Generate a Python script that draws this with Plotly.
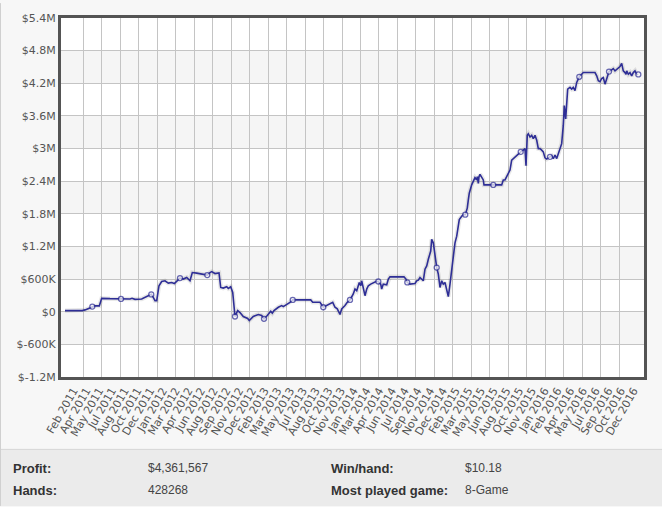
import plotly.graph_objects as go

# ---------------- data ----------------
# x: months elapsed since 1 Jan 2011, y: cumulative profit in $ millions
months = [0.375, 2.54, 2.875, 3.5, 3.79, 4.125, 4.66, 4.96, 6.0, 7.375, 8.125, 8.5, 8.75, 9.125, 9.96,
          10.375, 10.79, 11.16, 11.41, 11.625, 11.84, 12.125, 12.46, 12.875, 13.29, 13.71, 14.04, 14.34,
          14.75, 15.16, 15.59, 16.0, 16.29, 16.84, 17.46, 18.16, 18.5, 18.71, 19.125, 19.625, 19.84, 20.16,
          20.59, 20.79, 21.09, 21.34, 21.625, 21.96, 22.25, 22.66, 23.21, 23.41, 23.91, 24.54, 24.96, 25.25,
          25.66, 26.09, 26.29, 26.5, 27.04, 27.46, 27.66, 28.09, 28.5, 28.84, 29.125, 31.09, 31.34, 32.25,
          32.66, 33.29, 33.84, 34.125, 34.41, 34.75, 34.96, 35.375, 35.66, 36.0, 36.41, 36.625, 36.84, 37.16,
          37.34, 37.46, 37.66, 37.875, 38.09, 38.29, 38.59, 38.91, 39.25, 39.54, 39.84, 39.96, 40.16, 40.59,
          40.79, 41.0, 42.75, 43.0, 43.16, 43.5, 44.125, 44.34, 44.54, 44.75, 44.96, 45.16, 45.375, 45.59,
          45.79, 46.0, 46.09, 46.21, 46.41, 46.5, 46.625, 46.84, 47.04, 47.25, 47.46, 47.66, 47.875, 48.09,
          48.29, 48.5, 48.71, 48.91, 49.125, 49.34, 49.54, 49.66, 49.96, 50.16, 50.41, 50.66, 50.79, 50.91,
          51.21, 51.41, 51.625, 51.84, 51.91, 52.04, 52.125, 52.25, 52.46, 52.66, 52.75, 53.09, 53.5, 53.91,
          54.96, 55.16, 55.375, 55.79, 56.0, 56.21, 56.41, 56.625, 56.84, 57.04, 57.34, 57.66, 57.875, 58.0,
          58.16, 58.29, 58.5, 58.71, 58.91, 59.125, 59.34, 59.54, 59.75, 59.96, 60.16, 60.375, 60.59, 60.79,
          61.0, 61.21, 61.41, 61.625, 61.84, 62.04, 62.25, 62.46, 62.66, 62.79, 62.96, 63.09, 63.21, 63.5,
          63.71, 63.91, 64.125, 64.34, 64.54, 64.66, 64.96, 65.16, 66.625, 66.84, 67.04, 67.25, 67.46, 67.66,
          67.875, 68.09, 68.29, 68.375, 68.625, 68.91, 69.125, 69.34, 69.54, 69.75, 69.96, 70.16, 70.375,
          70.5, 70.59, 70.79, 71.0, 71.21, 71.41, 71.625, 71.84, 72.04]
profit_m = [0.02, 0.02, 0.034, 0.067, 0.094, 0.107, 0.107, 0.246, 0.240, 0.235, 0.240, 0.235, 0.246, 0.227, 0.235,
            0.264, 0.295, 0.319, 0.264, 0.204, 0.204, 0.478, 0.556, 0.569, 0.527, 0.538, 0.519, 0.569,
            0.618, 0.600, 0.629, 0.569, 0.720, 0.709, 0.691, 0.673, 0.720, 0.738, 0.702, 0.714, 0.446, 0.435,
            0.459, 0.428, 0.459, 0.355, -0.088, 0.02, -0.015, -0.088, -0.124, -0.161, -0.088, -0.051, -0.069, -0.130,
            -0.069, 0.009, -0.028, 0.02, 0.082, 0.113, 0.094, 0.131, 0.173, 0.217, 0.217, 0.217, 0.173, 0.173,
            0.082, 0.131, 0.173, 0.082, 0.053, -0.051, 0.053, 0.113, 0.173, 0.217, 0.326, 0.417, 0.386, 0.538,
            0.478, 0.569, 0.417, 0.295, 0.417, 0.478, 0.508, 0.538, 0.556, 0.556, 0.508, 0.417, 0.508, 0.496,
            0.600, 0.641, 0.641, 0.600, 0.538, 0.508, 0.519, 0.569, 0.581, 0.629, 0.600, 0.569, 0.782, 0.842,
            0.964, 1.084, 1.115, 1.329, 1.267, 1.175, 0.993, 0.811, 0.691, 0.446, 0.569, 0.508, 0.538, 0.423,
            0.277, 0.508, 0.782, 1.055, 1.267, 1.389, 1.540, 1.693, 1.754, 1.785, 1.785, 1.905, 2.058, 2.179,
            2.332, 2.392, 2.465, 2.423, 2.483, 2.361, 2.483, 2.525, 2.483, 2.423, 2.332, 2.332, 2.332, 2.332,
            2.332, 2.423, 2.423, 2.543, 2.605, 2.787, 2.816, 2.847, 2.879, 2.908, 2.939, 2.970, 2.999, 2.683,
            3.243, 3.272, 3.212, 3.243, 3.181, 3.243, 3.152, 2.999, 2.999, 2.970, 2.939, 2.829, 2.806, 2.829,
            2.847, 2.866, 2.816, 2.879, 2.816, 2.908, 2.999, 3.090, 3.425, 3.790, 3.546, 3.910, 4.093, 4.124,
            4.093, 4.124, 4.064, 4.215, 4.275, 4.319, 4.366, 4.397, 4.397, 4.337, 4.246, 4.228, 4.288, 4.306,
            4.184, 4.275, 4.397, 4.415, 4.439, 4.470, 4.428, 4.457, 4.488, 4.507, 4.567, 4.428, 4.397,
            4.366, 4.428, 4.366, 4.397, 4.337, 4.397, 4.428, 4.366, 4.362]
# points drawn with a hollow circle marker
marker_months = [3.79, 7.375, 11.16, 14.75, 18.16, 21.625, 25.25, 28.84, 32.66, 36.0, 39.54, 43.16,
                 46.84, 50.41, 53.91, 57.34, 61.0, 64.66, 68.375, 72.04]

x_tick_labels = ["Feb 2011", "Apr 2011", "May 2011", "Jul 2011", "Aug 2011", "Oct 2011", "Dec 2011",
                 "Jan 2012", "Mar 2012", "Apr 2012", "Jun 2012", "Aug 2012", "Sep 2012", "Nov 2012",
                 "Dec 2012", "Feb 2013", "Mar 2013", "May 2013", "Jul 2013", "Aug 2013", "Oct 2013",
                 "Nov 2013", "Jan 2014", "Mar 2014", "Apr 2014", "Jun 2014", "Jul 2014", "Sep 2014",
                 "Nov 2014", "Dec 2014", "Feb 2015", "Mar 2015", "May 2015", "Jun 2015", "Aug 2015",
                 "Oct 2015", "Nov 2015", "Jan 2016", "Feb 2016", "Apr 2016", "May 2016", "Jul 2016",
                 "Sep 2016", "Oct 2016", "Dec 2016"]
y_tick_values = [5.4, 4.8, 4.2, 3.6, 3.0, 2.4, 1.8, 1.2, 0.6, 0.0, -0.6, -1.2]
y_tick_labels = ["$5.4M", "$4.8M", "$4.2M", "$3.6M", "$3M", "$2.4M", "$1.8M", "$1.2M", "$600K",
                 "$0", "$-600K", "$-1.2M"]

summary_left = [("Profit:", "$4,361,567"), ("Hands:", "428268")]
summary_right = [("Win/hand:", "$10.18"), ("Most played game:", "8-Game")]

# ---------------- layout constants (pixels) ----------------
W, H = 662, 507
PL, PR, PT, PB = 61, 644, 15, 377
X_RANGE = [-0.125, 72.75]
TICK_FIRST, TICK_LAST = 1.45, 71.45
GRID_FIRST, GRID_STEP, GRID_N = 2.66, 2.31, 30

n_ticks = len(x_tick_labels)
tick_vals = [TICK_FIRST + i * (TICK_LAST - TICK_FIRST) / (n_ticks - 1) for i in range(n_ticks)]
grid_vals = [GRID_FIRST + k * GRID_STEP for k in range(GRID_N)]

marker_sizes = [5 if any(abs(m - mm) < 1e-6 for mm in marker_months) else 0 for m in months]

LINE = "#2e2e96"

fig = go.Figure()
# soft shadow under the line
fig.add_trace(go.Scatter(x=months, y=profit_m, mode="lines",
                         line=dict(color="rgba(0,0,0,0.09)", width=4.5),
                         hoverinfo="skip", showlegend=False))
fig.add_trace(go.Scatter(x=months, y=profit_m, mode="lines+markers",
                         line=dict(color=LINE, width=1.6),
                         marker=dict(size=marker_sizes, color="white",
                                     line=dict(color=LINE, width=1.3)),
                         showlegend=False))

# alternating horizontal bands
shapes = []
ys = sorted(y_tick_values)
for i in range(len(ys) - 1):
    if i % 2 == 1:
        shapes.append(dict(type="rect", xref="paper", yref="y", x0=0, x1=1,
                           y0=ys[i], y1=ys[i + 1], fillcolor="#f5f5f5",
                           line=dict(width=0), layer="below"))

pw, ph = PR - PL, PB - PT
def px_x(px):
    return (px - PL) / pw
def px_y(py):
    return (PB - py) / ph

# summary table panel
shapes.append(dict(type="rect", xref="paper", yref="paper", x0=px_x(0), x1=px_x(W),
                   y0=px_y(H), y1=px_y(450), fillcolor="#ebebeb",
                   line=dict(width=0), layer="below"))
shapes.append(dict(type="line", xref="paper", yref="paper", x0=px_x(0), x1=px_x(W),
                   y0=px_y(450), y1=px_y(450), line=dict(color="#d6d6d6", width=1)))
shapes.append(dict(type="line", xref="paper", yref="paper", x0=px_x(0.5), x1=px_x(0.5),
                   y0=px_y(H), y1=px_y(0), line=dict(color="#d0d0d0", width=1)))

annotations = []
row_y = [469, 491]
for (lab, val), yy in zip(summary_left, row_y):
    annotations.append(dict(text="<b>" + lab + "</b>", x=px_x(11), y=px_y(yy), xref="paper", yref="paper",
                            xanchor="left", yanchor="middle", showarrow=False,
                            font=dict(family="Liberation Sans Narrow, Liberation Sans, Arial", size=13, color="#333333")))
    annotations.append(dict(text=val, x=px_x(146), y=px_y(yy), xref="paper", yref="paper",
                            xanchor="left", yanchor="middle", showarrow=False,
                            font=dict(family="Liberation Sans, Arial", size=12, color="#444444")))
for (lab, val), yy in zip(summary_right, row_y):
    annotations.append(dict(text="<b>" + lab + "</b>", x=px_x(329), y=px_y(yy), xref="paper", yref="paper",
                            xanchor="left", yanchor="middle", showarrow=False,
                            font=dict(family="Liberation Sans Narrow, Liberation Sans, Arial", size=13, color="#333333")))
    annotations.append(dict(text=val, x=px_x(463), y=px_y(yy), xref="paper", yref="paper",
                            xanchor="left", yanchor="middle", showarrow=False,
                            font=dict(family="Liberation Sans, Arial", size=12, color="#444444")))

fig.update_layout(
    width=W, height=H, autosize=False,
    margin=dict(l=PL, r=W - PR, t=PT, b=H - PB, pad=0),
    paper_bgcolor="#f7f7f7", plot_bgcolor="white",
    font=dict(family="DejaVu Sans, Verdana", size=11, color="#555555"),
    shapes=shapes, annotations=annotations,
    hovermode=False,
)
fig.update_xaxes(range=X_RANGE, tickmode="array", tickvals=tick_vals, ticktext=x_tick_labels,
                 tickangle=-60, showgrid=False, zeroline=False, ticks="",
                 showline=True, linecolor="#545454", linewidth=3, mirror=True,
                 minor=dict(tickmode="array", tickvals=grid_vals, showgrid=True,
                            gridcolor="#c4c4c4", gridwidth=1, ticks=""),
                 tickfont=dict(size=11, color="#555555"))
fig.update_yaxes(range=[-1.2, 5.4], tickmode="array", tickvals=y_tick_values, ticktext=y_tick_labels,
                 showgrid=True, gridcolor="#c4c4c4", gridwidth=1, zeroline=False, ticks="",
                 showline=True, linecolor="#545454", linewidth=3, mirror=True,
                 tickfont=dict(size=11, color="#555555"))

fig.write_html("out.html", config={"displayModeBar": False},
               post_script="document.body.style.margin='0';")
